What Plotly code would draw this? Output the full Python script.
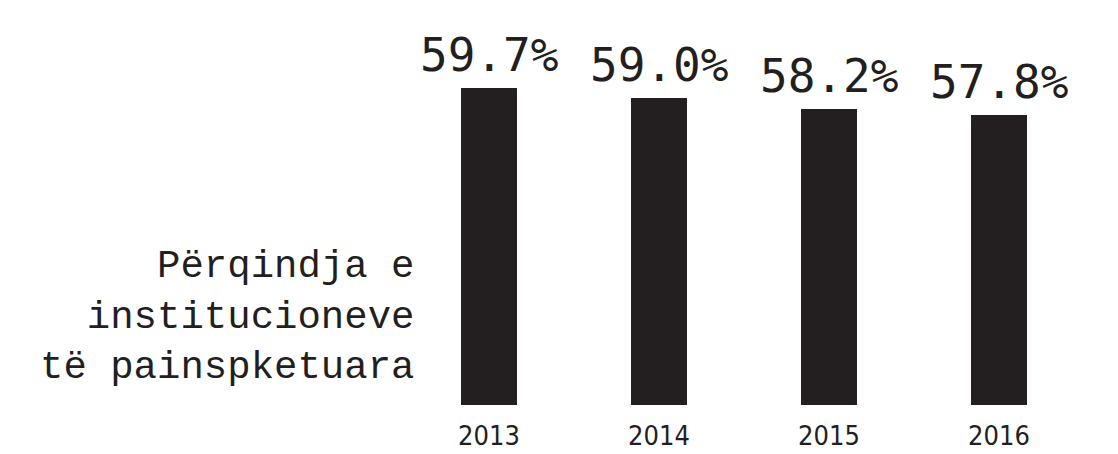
import plotly.graph_objects as go

years = ["2013", "2014", "2015", "2016"]
values = [59.7, 59.0, 58.2, 57.8]
labels = ["59.7%", "59.0%", "58.2%", "57.8%"]
title_lines = ["Përqindja e", "institucioneve", "të painspketuara"]

ink = "#231f20"

fig = go.Figure()
fig.add_trace(go.Bar(
    x=years, y=values, marker=dict(color=ink, line=dict(width=0)),
    width=0.33, hoverinfo="skip",
))

for i, (v, lab) in enumerate(zip(values, labels)):
    fig.add_annotation(
        x=i, y=v, text=lab, showarrow=False, yanchor="bottom", yshift=4,
        font=dict(family="DejaVu Sans Mono", size=46, color=ink),
    )

fig.add_annotation(
    xref="paper", yref="paper", x=0.0175, y=0.215, xanchor="right", yanchor="middle",
    text="<br>".join(title_lines), align="right", showarrow=False,
    font=dict(family="Liberation Mono, Courier New, monospace", size=39, color=ink),
)

fig.update_layout(
    width=1118, height=454,
    margin=dict(l=404, r=34, t=0, b=49, autoexpand=False),
    paper_bgcolor="white", plot_bgcolor="rgba(0,0,0,0)",
    showlegend=False, bargap=0,
    xaxis=dict(
        type="category", range=[-0.5, 3.5], showgrid=False, zeroline=False, showline=False,
        ticks="outside", ticklen=7, tickcolor="rgba(0,0,0,0)", automargin=False,
        tickfont=dict(family="Liberation Sans Narrow, DejaVu Sans Condensed, sans-serif", size=27, color=ink),
    ),
    yaxis=dict(range=[37.4, 65.9], visible=False, automargin=False),
)

fig.write_html("out.html")
